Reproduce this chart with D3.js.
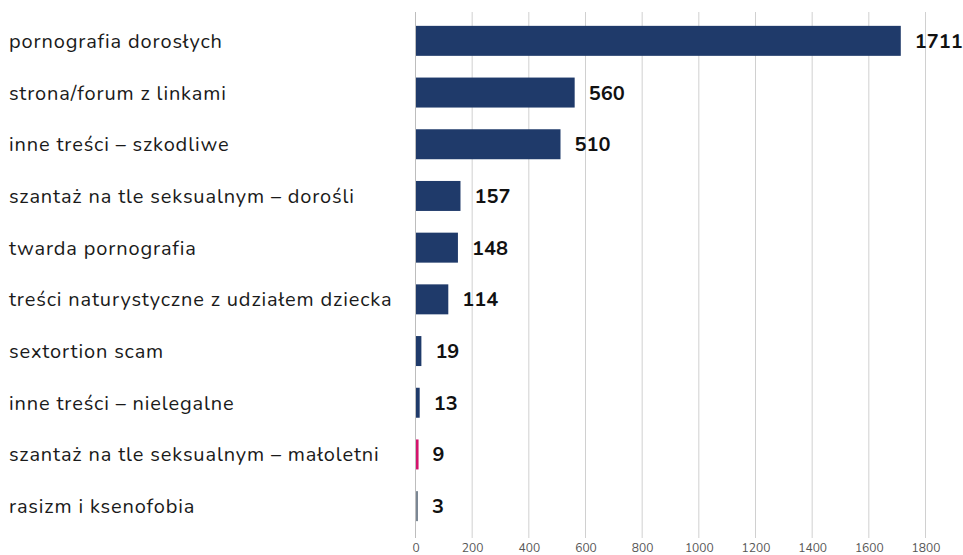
<!DOCTYPE html>
<html>
<head>
<meta charset="utf-8">
<script src="https://cdn.jsdelivr.net/npm/d3@7"></script>
<style>
  body { margin: 0; background: #fff; }
  svg text { font-family: "Nunito", "Noto Sans", "Open Sans", sans-serif; }
</style>
</head>
<body>
<div id="chart"></div>
<script>
var categories = [
    "pornografia dorosłych",
    "strona/forum z linkami",
    "inne treści – szkodliwe",
    "szantaż na tle seksualnym – dorośli",
    "twarda pornografia",
    "treści naturystyczne z udziałem dziecka",
    "sextortion scam",
    "inne treści – nielegalne",
    "szantaż na tle seksualnym – małoletni",
    "rasizm i ksenofobia"
];
var values = [1711, 560, 510, 157, 148, 114, 19, 13, 9, 3];
var bar_colors = ["#1f3a6a", "#1f3a6a", "#1f3a6a", "#1f3a6a", "#1f3a6a", "#1f3a6a", "#1f3a6a", "#1f3a6a", "#d4136c", "#7b8794"];
var ticks = [0, 200, 400, 600, 800, 1000, 1200, 1400, 1600, 1800];

var chart_width = 963,
    chart_height = 555,
    plot_left = 415,
    plot_right = 925,
    plot_top = 15,
    plot_bottom = 532;

var svg = d3.select("#chart").append("svg")
    .attr("width", chart_width)
    .attr("height", chart_height)
    .style("display", "block");

var x = d3.scaleLinear().domain([0, 1800]).range([plot_left, plot_right]);
var y = d3.scaleBand().domain(categories).range([plot_top, plot_bottom]).paddingInner(0.42).paddingOuter(0.21);

// grid
svg.append("g")
    .selectAll("line")
    .data(ticks)
    .enter().append("line")
    .attr("x1", function(d) { return x(d) + 0.5; })
    .attr("x2", function(d) { return x(d) + 0.5; })
    .attr("y1", 12)
    .attr("y2", 538)
    .attr("stroke", function(d) { return d == 0 ? "#bdbdbd" : "#d0d0d0"; })
    .attr("stroke-width", 1);

// x axis labels
svg.append("g")
    .selectAll("text")
    .data(ticks)
    .enter().append("text")
    .attr("x", function(d) { return x(d) + 1; })
    .attr("y", 552)
    .attr("text-anchor", "middle")
    .attr("font-size", 12)
    .attr("fill", "#555")
    .text(function(d) { return d; });

// bars
svg.append("g")
    .selectAll("rect")
    .data(values)
    .enter().append("rect")
    .attr("x", x(0) + 1)
    .attr("y", function(d, i) { return y(categories[i]); })
    .attr("width", function(d) { return Math.max(x(d) - x(0), 2); })
    .attr("height", y.bandwidth())
    .attr("fill", function(d, i) { return bar_colors[i]; });

// category labels
svg.append("g")
    .selectAll("text")
    .data(categories)
    .enter().append("text")
    .attr("x", 9)
    .attr("y", function(d) { return y(d) + y.bandwidth() / 2; })
    .attr("dy", "0.35em")
    .attr("font-size", 20)
    .attr("letter-spacing", 0.85)
    .attr("fill", "#1a1a1a")
    .text(function(d) { return d; });

// value labels
svg.append("g")
    .selectAll("text")
    .data(values)
    .enter().append("text")
    .attr("x", function(d) { return Math.max(x(d), x(0) + 2) + 15; })
    .attr("y", function(d, i) { return y(categories[i]) + y.bandwidth() / 2; })
    .attr("dy", "0.35em")
    .attr("font-size", 20)
    .attr("font-weight", "bold")
    .attr("fill", "#111")
    .text(function(d) { return d; });
</script>
</body>
</html>
